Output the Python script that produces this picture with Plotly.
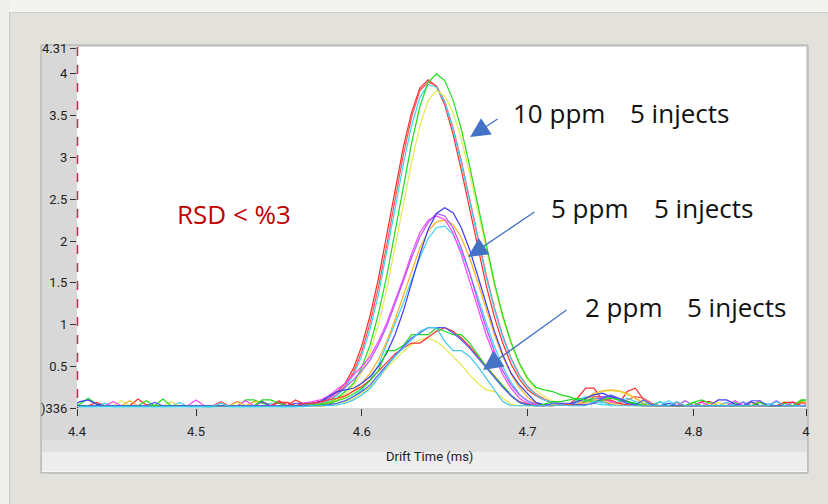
import plotly.graph_objects as go

# ---------------- data ----------------
# sample drift times (ms), 0.005 ms spacing
drift_time = [4.425, 4.430, 4.435, 4.440, 4.445, 4.450, 4.455, 4.460, 4.465, 4.470,
              4.475, 4.480, 4.485, 4.490, 4.495, 4.500, 4.505, 4.510, 4.515, 4.520,
              4.525, 4.530, 4.535, 4.540, 4.545, 4.550, 4.555, 4.560, 4.565, 4.570,
              4.575, 4.580, 4.585, 4.590, 4.595, 4.600, 4.605, 4.610, 4.615, 4.620,
              4.625, 4.630, 4.635, 4.640, 4.645, 4.650, 4.655, 4.660, 4.665, 4.670,
              4.675, 4.680, 4.685, 4.690, 4.695, 4.700, 4.705, 4.710, 4.715, 4.720,
              4.725, 4.730, 4.735, 4.740, 4.745, 4.750, 4.755, 4.760, 4.765, 4.770,
              4.775, 4.780, 4.785, 4.790, 4.795, 4.800, 4.805, 4.810, 4.815, 4.820,
              4.825, 4.830, 4.835, 4.840, 4.845, 4.850, 4.855, 4.860, 4.865, 4.870]

# ---- 10 ppm, 5 injections ----
ppm10_red = ([0.03,0.03,0.03,0.07,0.03,0.03,0.03,0.03,0.11,0.04,0.03,0.03,0.03,0.03,0.03,0.03,0.03,0.03,0.03,0.03,0.08,0.03,0.03,0.03,0.03,0.09,0.03,0.10,0.05,0.06]
             + [0.08,0.12,0.19,0.30,0.48,0.75,1.11,1.55,2.06,2.60,3.12,3.54,3.83,3.93,3.85,3.63,3.28,2.85,2.39,1.91,1.47,1.09,0.78,0.53,0.35,0.22,0.15,0.10,0.07,0.05]
             + [0.05,0.12,0.24,0.24,0.10,0.05,0.05,0.20,0.24,0.10,0.04,0.03,0.03,0.07,0.03,0.03,0.08,0.08,0.03,0.03,0.03,0.03,0.03,0.09,0.03,0.03,0.03,0.03,0.07,0.07])
ppm10_green = ([0.03,0.05,0.12,0.05,0.03,0.03,0.03,0.03,0.03,0.09,0.03,0.11,0.03,0.03,0.03,0.03,0.02,0.02,0.03,0.03,0.03,0.10,0.10,0.06,0.03,0.03,0.03,0.03,0.04,0.04]
               + [0.05,0.07,0.12,0.20,0.30,0.49,0.76,1.13,1.58,2.10,2.65,3.17,3.61,3.90,4.00,3.92,3.69,3.34,2.90,2.43,1.95,1.50,1.11,0.79,0.54,0.36,0.25,0.22,0.20,0.16]
               + [0.14,0.10,0.08,0.12,0.12,0.14,0.10,0.08,0.06,0.04,0.03,0.08,0.03,0.03,0.03,0.07,0.10,0.06,0.03,0.03,0.07,0.03,0.03,0.03,0.03,0.03,0.06,0.03,0.10,0.10])
ppm10_cyan = ([0.02,0.02,0.02,0.02,0.06,0.02,0.02,0.02,0.02,0.02,0.02,0.02,0.02,0.07,0.02,0.02,0.02,0.02,0.02,0.02,0.02,0.02,0.02,0.02,0.06,0.02,0.02,0.02,0.03,0.04]
              + [0.05,0.09,0.15,0.25,0.40,0.63,0.95,1.36,1.85,2.38,2.92,3.38,3.72,3.87,3.84,3.66,3.34,2.93,2.48,2.02,1.57,1.18,0.85,0.59,0.39,0.25,0.16,0.10,0.07,0.05]
              + [0.04,0.10,0.14,0.10,0.06,0.14,0.10,0.05,0.03,0.03,0.03,0.03,0.09,0.03,0.03,0.03,0.03,0.07,0.03,0.03,0.03,0.08,0.03,0.03,0.03,0.03,0.03,0.07,0.03,0.03])
ppm10_yellow = ([0.03,0.03,0.03,0.03,0.03,0.03,0.09,0.03,0.03,0.03,0.03,0.03,0.08,0.03,0.03,0.03,0.03,0.03,0.03,0.03,0.03,0.03,0.08,0.08,0.03,0.03,0.03,0.03,0.03,0.03]
                + [0.04,0.06,0.10,0.17,0.27,0.43,0.67,1.00,1.42,1.91,2.43,2.94,3.38,3.68,3.80,3.74,3.54,3.22,2.81,2.36,1.90,1.46,1.08,0.77,0.52,0.34,0.22,0.14,0.09,0.06]
                + [0.05,0.05,0.10,0.16,0.20,0.21,0.20,0.16,0.12,0.08,0.04,0.03,0.03,0.03,0.03,0.03,0.03,0.06,0.03,0.03,0.03,0.03,0.03,0.08,0.03,0.03,0.08,0.03,0.03,0.05])
ppm10_red2 = ([0.03,0.03,0.03,0.03,0.03,0.03,0.03,0.03,0.03,0.03,0.03,0.03,0.03,0.03,0.03,0.03,0.03,0.03,0.08,0.03,0.03,0.03,0.03,0.03,0.03,0.03,0.07,0.03,0.05,0.06]
              + [0.06,0.10,0.16,0.27,0.43,0.68,1.02,1.45,1.95,2.50,3.03,3.48,3.80,3.90,3.86,3.67,3.36,2.96,2.51,2.05,1.60,1.20,0.87,0.60,0.40,0.26,0.17,0.11,0.07,0.05]
              + [0.04,0.04,0.08,0.14,0.14,0.08,0.04,0.10,0.14,0.12,0.06,0.03,0.03,0.03,0.03,0.03,0.03,0.03,0.03,0.07,0.03,0.03,0.03,0.03,0.03,0.03,0.03,0.03,0.06,0.06])

# ---- 5 ppm, 5 injections ----
ppm5_blue = ([0.03,0.08,0.10,0.05,0.03,0.03,0.03,0.03,0.03,0.03,0.03,0.03,0.03,0.03,0.03,0.03,0.03,0.03,0.03,0.03,0.03,0.03,0.03,0.08,0.03,0.03,0.03,0.06,0.06,0.06]
             + [0.08,0.14,0.20,0.22,0.24,0.30,0.38,0.50,0.66,0.88,1.16,1.50,1.84,2.14,2.33,2.40,2.34,2.16,1.90,1.58,1.24,0.92,0.64,0.42,0.28,0.18,0.07,0.04,0.04,0.05]
             + [0.05,0.08,0.12,0.16,0.18,0.14,0.12,0.08,0.05,0.03,0.03,0.03,0.06,0.03,0.03,0.03,0.03,0.03,0.10,0.10,0.05,0.03,0.08,0.03,0.03,0.03,0.03,0.03,0.03,0.04])
ppm5_violet = ([0.03,0.03,0.03,0.03,0.03,0.03,0.03,0.03,0.03,0.03,0.03,0.03,0.03,0.03,0.03,0.03,0.03,0.03,0.03,0.03,0.03,0.03,0.03,0.03,0.03,0.07,0.03,0.03,0.05,0.06]
               + [0.08,0.12,0.18,0.25,0.34,0.45,0.58,0.76,0.98,1.24,1.52,1.80,2.05,2.22,2.33,2.30,2.16,1.92,1.62,1.28,0.96,0.68,0.45,0.28,0.16,0.09,0.05,0.04,0.04,0.05]
               + [0.04,0.04,0.06,0.10,0.14,0.14,0.10,0.06,0.04,0.03,0.03,0.03,0.03,0.03,0.09,0.03,0.03,0.03,0.03,0.03,0.03,0.07,0.03,0.03,0.03,0.09,0.03,0.03,0.03,0.03])
ppm5_magenta = ([0.03,0.03,0.03,0.03,0.03,0.08,0.03,0.03,0.03,0.03,0.03,0.03,0.03,0.03,0.03,0.10,0.03,0.03,0.03,0.03,0.03,0.09,0.03,0.03,0.03,0.03,0.03,0.03,0.06,0.08]
                + [0.10,0.15,0.22,0.30,0.40,0.50,0.62,0.80,1.02,1.28,1.55,1.85,2.10,2.25,2.30,2.26,2.10,1.84,1.52,1.18,0.88,0.62,0.40,0.24,0.12,0.06,0.04,0.03,0.04,0.06]
                + [0.05,0.04,0.04,0.08,0.12,0.08,0.04,0.04,0.03,0.03,0.03,0.03,0.03,0.03,0.03,0.03,0.07,0.03,0.03,0.03,0.09,0.03,0.03,0.03,0.03,0.03,0.03,0.08,0.03,0.05])
ppm5_orange = ([0.03,0.03,0.03,0.03,0.03,0.03,0.03,0.09,0.03,0.03,0.03,0.03,0.03,0.03,0.03,0.03,0.03,0.03,0.03,0.03,0.03,0.03,0.08,0.08,0.03,0.03,0.03,0.03,0.03,0.04]
               + [0.04,0.06,0.09,0.14,0.21,0.30,0.42,0.58,0.80,1.06,1.35,1.64,1.92,2.12,2.23,2.25,2.20,2.04,1.80,1.50,1.18,0.88,0.62,0.41,0.25,0.13,0.06,0.04,0.03,0.05]
               + [0.04,0.05,0.12,0.18,0.21,0.22,0.21,0.18,0.12,0.05,0.03,0.03,0.03,0.03,0.03,0.03,0.03,0.06,0.03,0.03,0.03,0.03,0.07,0.03,0.03,0.03,0.03,0.03,0.08,0.06])
ppm5_cyan = ([0.02,0.02,0.02,0.02,0.02,0.02,0.02,0.02,0.02,0.02,0.02,0.02,0.02,0.02,0.02,0.02,0.02,0.02,0.02,0.02,0.02,0.02,0.02,0.02,0.02,0.02,0.02,0.02,0.03,0.03]
             + [0.03,0.04,0.06,0.09,0.14,0.22,0.34,0.52,0.76,1.00,1.26,1.54,1.80,2.03,2.16,2.18,2.08,1.88,1.62,1.33,1.02,0.74,0.50,0.31,0.17,0.08,0.04,0.03,0.03,0.04]
             + [0.04,0.06,0.10,0.06,0.04,0.04,0.08,0.12,0.08,0.06,0.04,0.08,0.03,0.03,0.03,0.03,0.03,0.03,0.03,0.07,0.03,0.03,0.03,0.03,0.06,0.03,0.03,0.03,0.03,0.03])

# ---- 2 ppm, 5 injections ----
ppm2_green = ([0.03,0.03,0.03,0.03,0.03,0.03,0.03,0.03,0.03,0.03,0.03,0.03,0.03,0.03,0.03,0.03,0.03,0.03,0.03,0.03,0.03,0.03,0.03,0.10,0.10,0.06,0.03,0.03,0.03,0.04]
              + [0.04,0.05,0.09,0.12,0.17,0.24,0.33,0.45,0.69,0.69,0.75,0.88,0.88,0.88,0.96,0.92,0.88,0.88,0.78,0.64,0.50,0.38,0.27,0.16,0.07,0.04,0.03,0.05,0.08,0.08]
              + [0.10,0.12,0.10,0.08,0.10,0.12,0.10,0.08,0.05,0.04,0.03,0.03,0.03,0.03,0.03,0.07,0.03,0.03,0.03,0.03,0.03,0.03,0.03,0.07,0.03,0.03,0.03,0.03,0.09,0.09])
ppm2_blue = ([0.03,0.03,0.03,0.03,0.03,0.03,0.03,0.03,0.03,0.03,0.07,0.03,0.03,0.03,0.03,0.03,0.03,0.03,0.03,0.03,0.03,0.03,0.03,0.03,0.03,0.03,0.03,0.03,0.03,0.03]
             + [0.03,0.04,0.06,0.09,0.14,0.20,0.28,0.40,0.52,0.63,0.74,0.84,0.90,0.965,0.965,0.965,0.90,0.82,0.72,0.60,0.48,0.36,0.25,0.15,0.07,0.04,0.03,0.03,0.06,0.06]
             + [0.06,0.04,0.04,0.06,0.12,0.16,0.12,0.06,0.04,0.10,0.04,0.03,0.03,0.03,0.03,0.03,0.03,0.03,0.03,0.03,0.03,0.03,0.09,0.09,0.03,0.03,0.03,0.03,0.03,0.03])
ppm2_red = ([0.03,0.03,0.03,0.03,0.03,0.03,0.03,0.03,0.03,0.03,0.03,0.03,0.03,0.03,0.03,0.03,0.03,0.03,0.03,0.03,0.03,0.03,0.03,0.03,0.03,0.07,0.07,0.03,0.06,0.06]
            + [0.08,0.10,0.12,0.15,0.20,0.26,0.34,0.44,0.55,0.65,0.72,0.78,0.78,0.85,0.92,0.965,0.92,0.84,0.74,0.62,0.50,0.38,0.26,0.15,0.08,0.05,0.03,0.03,0.03,0.04]
            + [0.04,0.04,0.04,0.06,0.10,0.10,0.06,0.04,0.04,0.03,0.03,0.03,0.03,0.03,0.03,0.03,0.03,0.03,0.03,0.03,0.03,0.03,0.03,0.03,0.03,0.03,0.07,0.07,0.03,0.03])
ppm2_cyan = ([0.02,0.02,0.02,0.02,0.02,0.02,0.02,0.02,0.02,0.02,0.02,0.02,0.02,0.02,0.02,0.02,0.02,0.02,0.06,0.02,0.02,0.02,0.02,0.02,0.02,0.02,0.02,0.02,0.02,0.03]
             + [0.03,0.03,0.04,0.06,0.10,0.16,0.24,0.36,0.50,0.62,0.72,0.82,0.92,0.965,0.965,0.80,0.69,0.69,0.62,0.50,0.36,0.22,0.08,0.03,0.03,0.03,0.03,0.03,0.03,0.04]
             + [0.03,0.03,0.03,0.08,0.08,0.03,0.03,0.03,0.03,0.03,0.03,0.03,0.03,0.08,0.03,0.03,0.03,0.03,0.03,0.03,0.03,0.03,0.03,0.03,0.03,0.08,0.03,0.03,0.03,0.03])
ppm2_yellow = ([0.03,0.03,0.03,0.03,0.03,0.03,0.03,0.03,0.03,0.03,0.03,0.03,0.03,0.03,0.03,0.03,0.03,0.03,0.03,0.03,0.07,0.03,0.03,0.03,0.03,0.03,0.03,0.03,0.03,0.03]
               + [0.02,0.04,0.06,0.08,0.12,0.18,0.26,0.36,0.48,0.58,0.68,0.76,0.82,0.84,0.80,0.72,0.62,0.52,0.40,0.30,0.22,0.20,0.12,0.05,0.03,0.03,0.03,0.03,0.04,0.04]
               + [0.04,0.04,0.06,0.10,0.10,0.06,0.04,0.04,0.03,0.03,0.03,0.03,0.03,0.03,0.03,0.03,0.03,0.03,0.07,0.03,0.03,0.03,0.03,0.03,0.03,0.03,0.03,0.03,0.03,0.03])

series = [
    ("10 ppm #1", ppm10_red, "#ff2a2a"),
    ("10 ppm #2", ppm10_red2, "#ff5050"),
    ("10 ppm #3", ppm10_cyan, "#3fd2f5"),
    ("10 ppm #4", ppm10_yellow, "#e4ec50"),
    ("10 ppm #5", ppm10_green, "#1fdc1f"),
    ("5 ppm #1", ppm5_cyan, "#3fd2f5"),
    ("5 ppm #2", ppm5_orange, "#ffb020"),
    ("5 ppm #3", ppm5_magenta, "#ff44ff"),
    ("5 ppm #4", ppm5_violet, "#b052ff"),
    ("5 ppm #5", ppm5_blue, "#3c3cf0"),
    ("2 ppm #1", ppm2_yellow, "#e4e84a"),
    ("2 ppm #2", ppm2_red, "#ff3030"),
    ("2 ppm #3", ppm2_green, "#1fd81f"),
    ("2 ppm #4", ppm2_blue, "#4a5aff"),
    ("2 ppm #5", ppm2_cyan, "#3fc6f0"),
]

x_tick_vals = [4.4282, 4.5, 4.6, 4.7, 4.8, 4.8679]
x_tick_text = ["4.4", "4.5", "4.6", "4.7", "4.8", "4"]
y_tick_vals = [0.00336, 0.5, 1, 1.5, 2, 2.5, 3, 3.5, 4, 4.31]
y_tick_text = [")336", "0.5", "1", "1.5", "2", "2.5", "3", "3.5", "4", "4.31"]

# ---------------- figure ----------------
W, H = 828, 504
L, R, T, B = 77, 22, 48, 96
PW, PH = W - L - R, H - T - B


def px(x):
    return (x - L) / PW


def py(y):
    return (H - B - y) / PH


fig = go.Figure()
for name, vals, col in series:
    fig.add_trace(go.Scatter(x=drift_time, y=vals, mode="lines", name=name,
                             line=dict(color=col, width=1.2), showlegend=False,
                             hoverinfo="skip"))


def rect(x0, y0, x1, y1, fill, line=None, layer="below"):
    return dict(type="rect", xref="paper", yref="paper",
                x0=px(x0), x1=px(x1), y0=py(y1), y1=py(y0),
                fillcolor=fill, line=dict(width=0 if line is None else 1,
                                          color=line or fill), layer=layer)


shapes = [
    rect(0, 0, 828, 13, "#f3f3f1"),
    rect(0, 0, 10, 504, "#efefed"),
    rect(9, 12, 10, 504, "#cdcbc6"),
    rect(10, 12, 828, 13, "#d2d0cb"),
    rect(41, 45, 808, 473, "#d8d8d8", "#a8a8a8"),
    rect(42, 440, 807, 452, "#e0e0e0"),
    rect(42, 452, 807, 471, "#ededed"),
    rect(42, 471, 807, 472, "#f7f7f7"),
    rect(77, 47, 806, 408, "#ffffff"),
    dict(type="line", xref="paper", yref="paper", x0=px(77.5), x1=px(77.5),
         y0=py(47), y1=py(408), line=dict(color="#e0204a", width=1.5, dash="dash"),
         layer="above"),
]

ann = []
# text labels
ann.append(dict(xref="paper", yref="paper", x=px(175), y=py(214), text="RSD < %3",
                showarrow=False, xanchor="left", yanchor="middle",
                font=dict(family="Open Sans", size=26, color="#c00000")))
labels = [("10 ppm", 511, 113), ("5 injects", 628, 113),
          ("5 ppm", 549, 208), ("5 injects", 652, 208),
          ("2 ppm", 583, 307), ("5 injects", 685, 307)]
for t, x0, y0 in labels:
    ann.append(dict(xref="paper", yref="paper", x=px(x0), y=py(y0), text=t,
                    showarrow=False, xanchor="left", yanchor="middle",
                    font=dict(family="Open Sans", size=26, color="#111111")))
# arrows (tip in data coords, tail offset in pixels)
arrows = [(4.6653, 3.245, 29, -19), (4.6640, 1.810, 68, -46), (4.6731, 0.458, 85, -61)]
for xa, ya, ax, ay in arrows:
    ann.append(dict(x=xa, y=ya, xref="x", yref="y", ax=ax, ay=ay, text="",
                    showarrow=True, arrowhead=2, arrowsize=3, arrowwidth=1.3,
                    arrowcolor="#4472c4", standoff=0))
ann.append(dict(xref="paper", yref="paper", x=px(429), y=py(456), text="Drift Time (ms)",
                showarrow=False, xanchor="center", yanchor="middle",
                font=dict(family="Roboto", size=13, color="#222222")))

fig.update_layout(
    width=W, height=H,
    margin=dict(l=L, r=R, t=T, b=B, pad=0),
    paper_bgcolor="#e3e1dc",
    plot_bgcolor="#ffffff",
    shapes=shapes,
    annotations=ann,
    showlegend=False,
    xaxis=dict(range=[4.4282, 4.8679], tickvals=x_tick_vals, ticktext=x_tick_text,
               ticks="outside", ticklen=7, tickwidth=1, tickcolor="#333333",
               ticklabelstandoff=4, fixedrange=True,
               showgrid=False, zeroline=False, showline=False,
               tickfont=dict(family="Roboto", size=13, color="#222222")),
    yaxis=dict(range=[0.00336, 4.31], tickvals=y_tick_vals, ticktext=y_tick_text,
               ticks="outside", ticklen=6, tickwidth=1, tickcolor="#333333",
               fixedrange=True,
               showgrid=False, zeroline=False, showline=False,
               tickfont=dict(family="Roboto", size=13, color="#222222")),
)

fig.write_html("out.html", config={"displayModeBar": False},
               post_script=("document.documentElement.style.overflow='hidden';"
                            "document.documentElement.style.background='#e3e1dc';"
                            "document.body.style.margin='0';"
                            "document.body.style.overflow='hidden';"
                            "document.body.style.background='#e3e1dc';"))
